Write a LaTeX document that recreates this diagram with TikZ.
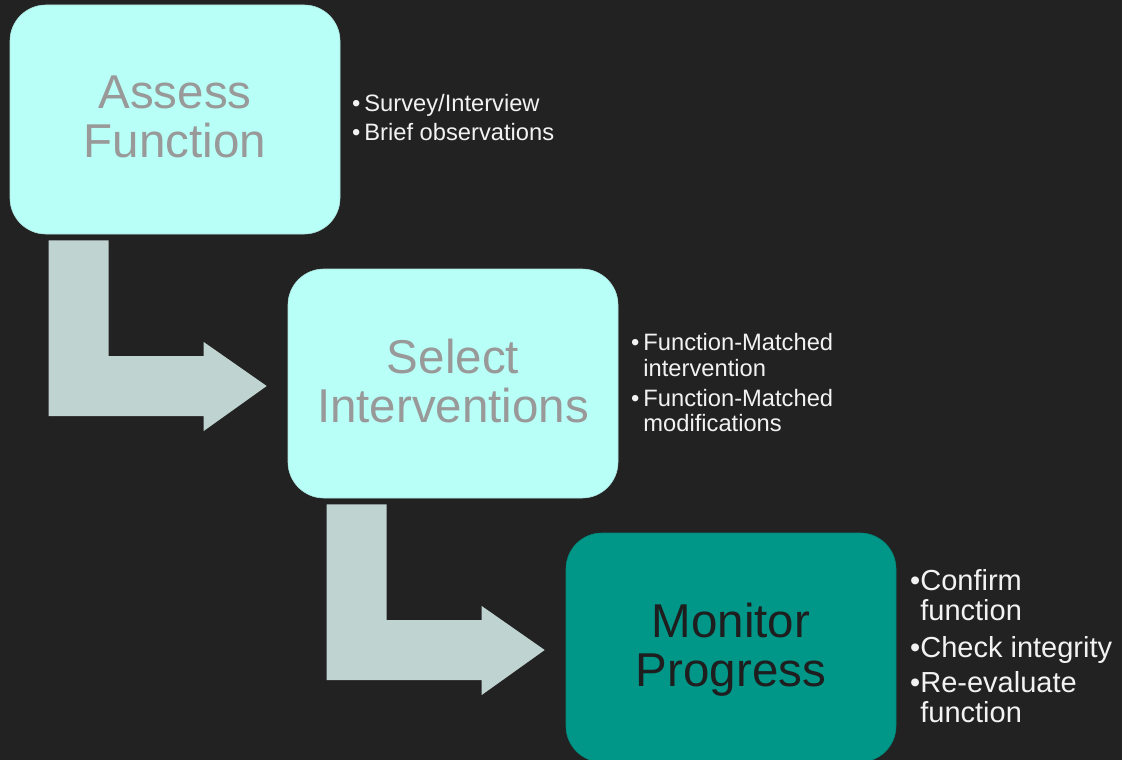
\documentclass[tikz,border=0pt]{standalone}
\usepackage{fontspec}
\setmainfont{Liberation Sans}
\usetikzlibrary{calc}
\definecolor{bg}{HTML}{222222}
\definecolor{lightbox}{HTML}{B8FFF7}
\definecolor{tealbox}{HTML}{009688}
\definecolor{arrowc}{HTML}{BFD4D0}
\definecolor{labelgray}{HTML}{999999}
\definecolor{labeldark}{HTML}{1E1E1E}
\definecolor{bullettext}{HTML}{F2F2F2}
\tikzset{
  stepbox/.style={rounded corners=36pt, minimum width=330pt, minimum height=229pt,
    inner sep=0pt, align=center, font=\fontsize{47.5}{49}\selectfont, text depth=6pt},
  lightstep/.style={stepbox, fill=lightbox, draw=lightbox!80!gray, line width=0.6pt, text=labelgray},
  tealstep/.style={stepbox, fill=tealbox, draw=tealbox!90!black, line width=0.6pt, text=labeldark},
  bulletlist/.style={anchor=north west, align=left, inner sep=0pt, text=bullettext},
  fatarrow/.style={fill=arrowc},
}
\newcommand\elbowarrow[2]{%
  \fill[fatarrow] ($(#1.south west)+(39,6)$) -- ($(#1.south west)+(99,6)$)
    |- ($(#2.west)+(-84,-27.5)$) -- ($(#2.west)+(-84,-41.5)$)
    -- ($(#2.west)+(-21,2.5)$) -- ($(#2.west)+(-84,47.5)$)
    -- ($(#2.west)+(-84,32.5)$) -| ($(#1.south west)+(39,6)$) -- cycle;}
\begin{document}
\begin{tikzpicture}[x=1pt,y=-1pt]
\useasboundingbox (0,0) rectangle (1122,760);
\clip (0,0) rectangle (1122,760);
\fill[bg] (0,0) rectangle (1122,760);

\node[lightstep] (assess) at (175,119.5) {Assess\\Function};
\node[lightstep] (select) at (453,383.5) {Select\\Interventions};
\node[tealstep] (monitor) at (731,647.5) {Monitor\\Progress};

\elbowarrow{assess}{select}
\elbowarrow{select}{monitor}

\node[bulletlist, font=\fontsize{23.7}{29}\selectfont] (list1) at (352,94.5)
  {\textbullet\,Survey/Interview\\\textbullet\,Brief observations};
\node[bulletlist, font=\fontsize{23.7}{26}\selectfont] (list2) at (631,333.5)
  {\textbullet\,Function-Matched\\\hphantom{\textbullet\,}intervention\\[4pt]
   \textbullet\,Function-Matched\\[-1pt]\hphantom{\textbullet\,}modifications};
\node[bulletlist, font=\fontsize{29}{30}\selectfont] (list3) at (910,569)
  {\textbullet Confirm\\\hphantom{\textbullet}function\\[7pt]
   \textbullet Check integrity\\[5pt]
   \textbullet Re-evaluate\\\hphantom{\textbullet}function};
\end{tikzpicture}
\end{document}
